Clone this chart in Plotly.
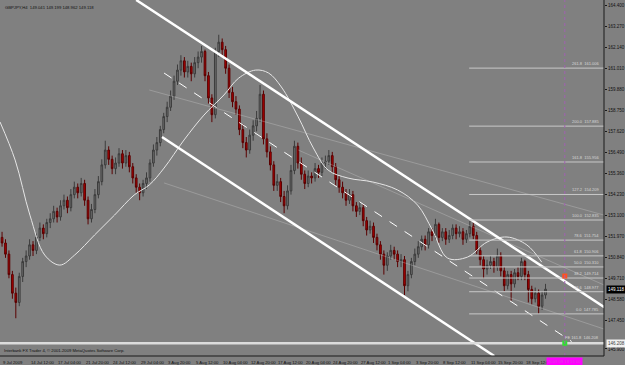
import plotly.graph_objects as go

# ---------------- data (8-hour bars, GBPJPY) ----------------
opens = [151.9,151.6,151.0,149.9,148.9,148.4,149.8,150.6,150.9,151.5,151.2,151.9,152.4,152.1,152.7,152.9,153.3,153.0,153.6,153.9,
         153.5,154.2,154.6,154.3,154.8,153.9,152.9,153.4,154.2,154.9,155.8,156.6,156.1,155.6,155.9,156.4,155.9,156.3,155.7,155.1,
         154.6,154.3,154.8,155.1,155.9,156.6,157.0,157.7,158.4,158.9,159.5,160.3,160.9,161.4,160.8,161.1,160.7,161.3,161.6,161.9,
         160.6,159.4,158.5,161.9,162.4,162.0,161.0,159.7,159.2,158.8,157.7,157.0,156.6,157.4,157.9,158.3,159.6,157.2,156.5,155.8,
         154.7,154.9,154.1,153.6,154.4,155.5,156.8,155.9,155.3,154.8,155.2,155.1,155.6,155.4,155.9,156.0,156.3,155.7,155.0,154.6,
         154.3,153.9,154.2,153.6,153.3,153.5,152.8,152.3,152.5,151.9,151.5,151.0,150.4,150.9,151.2,151.0,150.6,150.7,149.3,149.9,
         150.6,151.0,151.4,151.8,151.5,152.2,152.0,152.6,151.9,152.2,151.8,152.0,152.4,152.1,152.2,151.8,152.1,152.5,152.0,151.2,
         150.7,150.2,150.4,150.6,150.3,150.9,150.1,149.3,149.9,149.4,150.0,149.8,150.6,149.9,149.1,148.6,148.9,148.2,148.8]
highs = [152.2,151.8,151.2,150.1,149.2,150.0,150.8,151.2,151.8,151.7,152.1,152.7,152.6,152.9,153.2,153.6,153.5,153.9,154.2,154.1,
         154.5,154.9,154.8,155.1,155.0,154.1,153.7,154.5,155.2,156.1,157.1,156.8,156.3,156.2,156.7,156.6,156.6,156.5,155.9,155.3,
         154.8,155.0,155.4,156.1,156.9,157.3,157.9,158.6,159.2,159.8,160.6,161.2,161.7,161.6,161.4,161.3,161.6,161.9,162.2,162.0,
         160.8,159.6,162.1,162.8,162.6,162.2,161.2,160.0,159.5,159.0,158.0,157.3,157.7,158.2,158.7,160.1,159.8,157.5,156.8,156.0,
         155.3,155.1,154.4,154.7,155.8,157.1,157.0,156.2,155.5,155.5,155.4,155.9,155.8,156.2,156.3,156.6,156.5,155.9,155.2,154.9,
         154.5,154.5,154.4,153.8,153.8,153.7,153.0,152.8,152.7,152.1,151.7,151.2,151.1,151.5,151.4,151.2,151.0,150.9,150.1,150.8,
         151.3,151.7,152.0,152.0,152.4,152.4,152.9,152.7,152.4,152.4,152.3,152.6,152.6,152.5,152.4,152.3,152.8,152.7,152.2,151.4,
         150.9,150.7,150.9,150.8,151.3,151.1,150.3,150.1,150.1,150.2,150.3,150.8,150.7,150.1,149.3,149.2,149.1,149.0,149.4]
lows = [151.4,150.8,149.7,148.6,147.55,148.2,149.5,150.3,150.7,150.9,151.0,151.7,151.8,151.9,152.4,152.7,152.7,152.8,153.4,153.2,
        153.3,154.0,154.0,154.1,153.6,152.6,152.7,153.2,154.0,154.7,155.6,155.8,155.3,155.3,155.7,155.6,155.7,155.4,154.8,154.3,
        153.9,154.1,154.5,154.9,155.7,156.3,156.8,157.5,158.1,158.7,159.3,160.1,160.6,160.5,160.5,160.3,160.5,161.0,161.3,160.3,
        159.1,158.1,158.3,161.6,161.7,160.7,159.4,158.9,158.5,157.4,156.7,156.2,156.4,157.1,157.6,158.1,156.9,156.2,155.5,154.4,
        154.4,153.8,153.2,153.4,154.2,155.3,155.6,155.0,154.5,154.6,154.8,154.9,155.1,155.2,155.6,155.8,155.4,154.7,154.3,154.0,
        153.6,153.7,153.3,153.0,153.1,152.5,152.0,152.1,151.6,151.2,150.7,149.9,150.1,150.7,150.7,150.3,150.3,148.8,149.0,149.7,
        150.4,150.8,151.2,151.2,151.3,151.7,151.8,151.6,151.7,151.5,151.6,151.8,151.8,151.9,151.5,151.6,151.9,151.8,151.0,150.4,
        149.7,149.9,150.2,150.0,150.1,149.8,149.0,149.1,148.5,149.2,149.6,149.6,149.6,148.4,148.3,148.4,147.8,148.0,148.6]
closes = [151.6,151.0,149.9,148.9,148.4,149.8,150.6,150.9,151.5,151.2,151.9,152.4,152.1,152.7,152.9,153.3,153.0,153.6,153.9,153.5,
          154.2,154.6,154.3,154.8,153.9,152.9,153.4,154.2,154.9,155.8,156.6,156.1,155.6,155.9,156.4,155.9,156.3,155.7,155.1,154.6,
          154.3,154.8,155.1,155.9,156.6,157.0,157.7,158.4,158.9,159.5,160.3,160.9,161.4,160.8,161.1,160.7,161.3,161.6,161.9,160.6,
          159.4,158.5,161.9,162.4,162.0,161.0,159.7,159.2,158.8,157.7,157.0,156.6,157.4,157.9,158.3,159.6,157.2,156.5,155.8,154.7,
          154.9,154.1,153.6,154.4,155.5,156.8,155.9,155.3,154.8,155.2,155.1,155.6,155.4,155.9,156.0,156.3,155.7,155.0,154.6,154.3,
          153.9,154.2,153.6,153.3,153.5,152.8,152.3,152.5,151.9,151.5,151.0,150.4,150.9,151.2,151.0,150.6,150.7,149.3,149.9,150.6,
          151.0,151.4,151.8,151.5,152.2,152.0,152.6,151.9,152.2,151.8,152.0,152.4,152.1,152.2,151.8,152.1,152.5,152.0,151.2,150.7,
          150.2,150.4,150.6,150.3,150.9,150.1,149.3,149.9,149.4,150.0,149.8,150.6,149.9,149.1,148.6,148.9,148.2,148.8,149.118]
bars = list(range(len(closes)))

xtick_bars = [0, 8, 16, 24, 32, 40, 48, 56, 64, 72, 80, 88, 96, 104, 112, 120, 128, 136, 144, 152]
xtick_labels = ["9 Jul 2009", "14 Jul 12:00", "17 Jul 04:00", "21 Jul 20:00", "24 Jul 12:00", "29 Jul 04:00",
                "3 Aug 20:00", "5 Aug 12:00", "10 Aug 04:00", "12 Aug 20:00", "17 Aug 12:00", "20 Aug 04:00",
                "24 Aug 20:00", "27 Aug 12:00", "1 Sep 04:00", "3 Sep 20:00", "8 Sep 12:00", "11 Sep 04:00",
                "15 Sep 20:00", "18 Sep 12:00"]

ytick_vals = [164.40, 163.27, 162.14, 161.01, 159.88, 158.75, 157.62, 156.49, 155.36, 154.23, 153.10,
              151.97, 150.84, 149.71, 148.58, 147.45, 145.90]
ytick_text = ["%.3f" % v for v in ytick_vals]

# channel (bar index, price)
upper_x = [39.0, 175.1];  upper_y = [164.67, 148.15]
lower_x = [46.5, 143.1];  lower_y = [157.30, 145.52]
mid_x = [47.1, 165.6];    mid_y = [160.74, 146.30]

# faint fan lines
fan_x = [[42.8, 175.0], [86.1, 175.0], [47.1, 175.0]]
fan_y = [[159.83, 153.10], [156.60, 149.34], [154.83, 146.97]]

# smooth cycle curve
curve_x = [-0.6, 3.8, 8.1, 12.4, 16.8, 21.1, 26.9, 32.7, 38.4, 42.8, 47.1, 52.9, 58.7, 64.5, 68.8, 73.7, 77.5,
           81.2, 86.1, 90.5, 94.8, 100.6, 107.8, 115.0, 120.8, 125.1, 129.5, 135.3, 141.0, 146.8, 152.6, 156.9]
curve_y = [158.11, 156.06, 153.10, 150.95, 150.41, 150.95, 152.03, 153.10, 154.18, 154.72, 155.63, 157.14,
           158.48, 159.56, 160.47, 160.90, 160.74, 159.99, 158.38, 156.71, 155.52, 155.09, 154.88, 154.45,
           153.64, 152.30, 150.79, 150.84, 151.65, 151.92, 151.49, 150.57]

# fibonacci levels
fib_ratio = ["261.8", "200.0", "161.8", "127.2", "100.0", "78.6", "61.8", "50.0", "38.2", "23.6", "0.0"]
fib_price = [161.006, 157.885, 155.956, 154.209, 152.835, 151.754, 150.906, 150.310, 149.714, 148.977, 147.785]
fib_x0, fib_x1 = 135.8, 175.0

fe_price = 146.208
last_price = 149.118
now_bar = 163.6

BG = "#808080"
FONT = "Liberation Sans"
fig = go.Figure()

fig.add_trace(go.Candlestick(
    x=bars, open=opens, high=highs, low=lows, close=closes,
    increasing=dict(line=dict(color="#3c3c3c", width=1), fillcolor="#707070"),
    decreasing=dict(line=dict(color="#5a0000", width=1), fillcolor="#b00000"),
    whiskerwidth=0, showlegend=False, hoverinfo="skip"))

for fx, fy in zip(fan_x, fan_y):
    fig.add_trace(go.Scatter(x=fx, y=fy, mode="lines", line=dict(color="rgba(215,215,215,0.3)", width=1),
                             showlegend=False, hoverinfo="skip"))

fig.add_trace(go.Scatter(x=curve_x, y=curve_y, mode="lines", line=dict(color="#e6e6e6", width=1, shape="spline"),
                         showlegend=False, hoverinfo="skip"))

fig.add_trace(go.Scatter(x=upper_x, y=upper_y, mode="lines", line=dict(color="white", width=2.5),
                         showlegend=False, hoverinfo="skip"))
fig.add_trace(go.Scatter(x=lower_x, y=lower_y, mode="lines", line=dict(color="white", width=2.5),
                         showlegend=False, hoverinfo="skip"))
fig.add_trace(go.Scatter(x=mid_x, y=mid_y, mode="lines", line=dict(color="white", width=1, dash="dash"),
                         showlegend=False, hoverinfo="skip"))

for r, p in zip(fib_ratio, fib_price):
    fig.add_trace(go.Scatter(x=[fib_x0, fib_x1], y=[p, p], mode="lines", line=dict(color="#c8c8c8", width=1),
                             showlegend=False, hoverinfo="skip"))
    fig.add_annotation(x=fib_x1, y=p, xref="x", yref="y", text="%s  %.3f" % (r, p), showarrow=False,
                       xanchor="right", yanchor="bottom", xshift=-3, yshift=0,
                       font=dict(size=4, color="#d8d8d8", family=FONT))

# full-width FE line
fig.add_trace(go.Scatter(x=[-0.6, 175.0], y=[fe_price, fe_price], mode="lines", line=dict(color="#dcdcdc", width=2.5),
                         showlegend=False, hoverinfo="skip"))
fig.add_annotation(x=fib_x1, y=fe_price, xref="x", yref="y", text="FE 161.8  %.3f" % fe_price, showarrow=False,
                   xanchor="right", yanchor="bottom", xshift=-3, yshift=1, font=dict(size=4, color="#d8d8d8", family=FONT))

# now line (magenta vertical)
fig.add_shape(type="line", x0=now_bar, x1=now_bar, y0=0, y1=1, xref="x", yref="paper",
              line=dict(color="#a060b0", width=1, dash="dot"))
# markers
fig.add_trace(go.Scatter(x=[now_bar], y=[149.82], mode="markers",
                         marker=dict(symbol="square", size=5, color="#ff5020", line=dict(width=0)),
                         showlegend=False, hoverinfo="skip"))
fig.add_trace(go.Scatter(x=[now_bar], y=[fe_price], mode="markers",
                         marker=dict(symbol="square", size=5, color="#30e030", line=dict(width=0)),
                         showlegend=False, hoverinfo="skip"))

# frame
fig.add_shape(type="line", x0=1, x1=1, y0=0, y1=1, xref="paper", yref="paper", line=dict(color="#1a1a1a", width=1))
fig.add_shape(type="line", x0=0, x1=1, y0=0, y1=0, xref="paper", yref="paper", line=dict(color="#1a1a1a", width=1))

# x labels
for b, t in zip(xtick_bars, xtick_labels):
    fig.add_annotation(x=b, y=0, xref="x", yref="paper", text=t, showarrow=False, xanchor="left", yanchor="top",
                       xshift=-1, yshift=-2, font=dict(size=4.2, color="#101010", family=FONT))

# magenta time box
fig.add_annotation(x=now_bar, y=0, xref="x", yref="paper", text="2009.09.18 16:00", showarrow=False,
                   xanchor="center", yanchor="top", yshift=-1, bgcolor="#ff00ff",
                   font=dict(size=4.2, color="#e040e0", family=FONT), borderpad=1)

# price boxes on axis
fig.add_annotation(x=1, y=last_price, xref="paper", yref="y", text="%.3f" % last_price, showarrow=False,
                   xanchor="left", xshift=2, bgcolor="#000000", font=dict(size=4.5, color="white", family=FONT))
fig.add_annotation(x=1, y=fe_price, xref="paper", yref="y", text="%.3f" % fe_price, showarrow=False,
                   xanchor="left", xshift=2, bgcolor="#f0f0f0", font=dict(size=4.5, color="#404040", family=FONT))

# title & copyright
fig.add_annotation(x=0, y=1, xref="paper", yref="paper", text="GBPJPY,H4  149.041 149.199 148.962 149.118",
                   showarrow=False, xanchor="left", yanchor="top", xshift=3, yshift=-3,
                   font=dict(size=4.2, color="#101010", family=FONT))
fig.add_annotation(x=0, y=0, xref="paper", yref="paper",
                   text="Interbank FX Trader 4, \u00a9 2001-2009 MetaQuotes Software Corp.",
                   showarrow=False, xanchor="left", yanchor="bottom", xshift=2, yshift=1,
                   font=dict(size=4.2, color="#101010", family=FONT))

fig.update_layout(
    width=625, height=365, margin=dict(l=0, r=17, t=0, b=9),
    paper_bgcolor=BG, plot_bgcolor=BG, showlegend=False,
    xaxis=dict(range=[-0.6, 175.0], showgrid=False, zeroline=False, showticklabels=False,
               rangeslider=dict(visible=False), fixedrange=True, ticks=""),
    yaxis=dict(range=[145.52, 164.67], side="right", showgrid=False, zeroline=False,
               tickvals=ytick_vals, ticktext=ytick_text, ticks="outside", ticklen=2, tickcolor="#1a1a1a",
               tickfont=dict(size=4.5, color="#101010", family=FONT)),
)

fig.write_html("out.html")
